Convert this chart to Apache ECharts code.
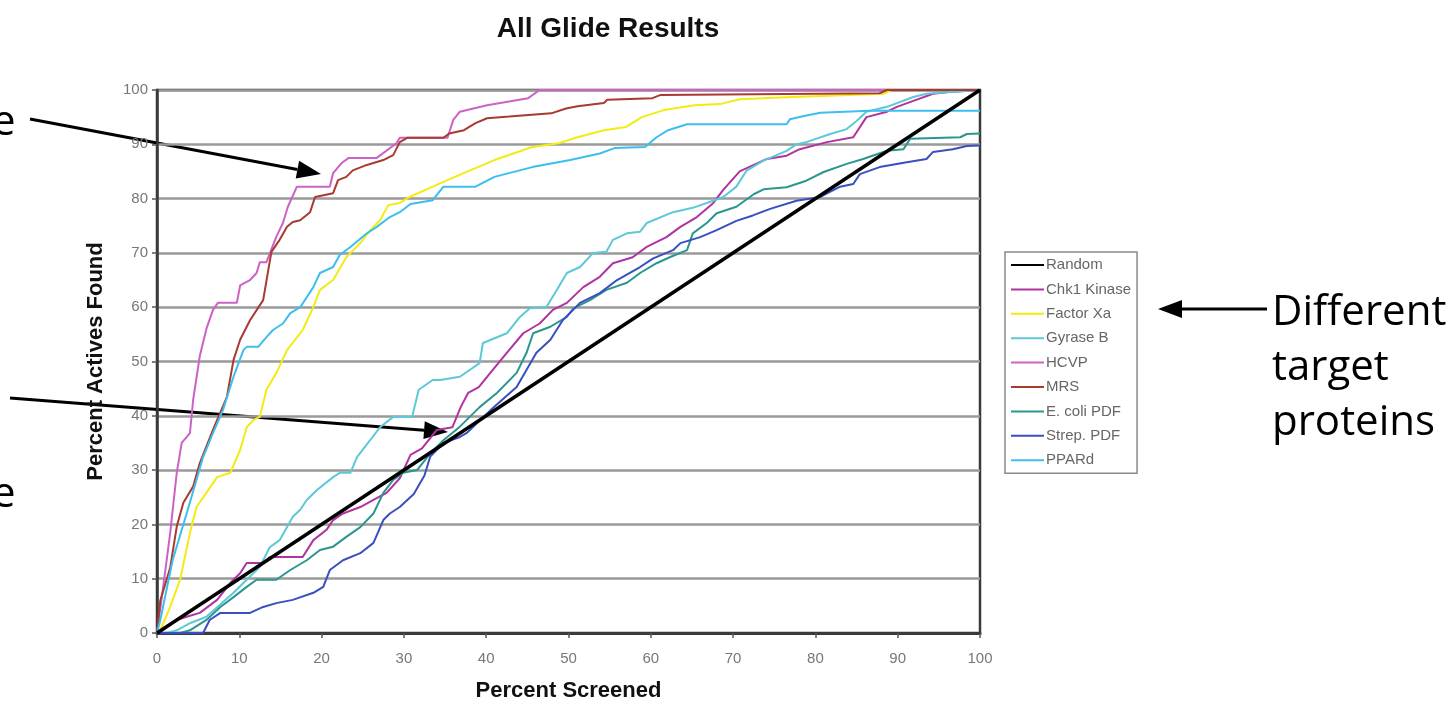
<!DOCTYPE html>
<html>
<head>
<meta charset="utf-8">
<script src="https://cdn.jsdelivr.net/npm/echarts@6/dist/echarts.min.js"></script>
<style>
  html, body { margin: 0; padding: 0; background: #fff; }
  #chart { width: 1451px; height: 702px; }
</style>
</head>
<body>
<div id="chart"></div>
<script>
// tick values on both axes
const xTicks = [0, 10, 20, 30, 40, 50, 60, 70, 80, 90, 100];
const yTicks = [0, 10, 20, 30, 40, 50, 60, 70, 80, 90, 100];

const seriesNames = ["Random", "Chk1 Kinase", "Factor Xa", "Gyrase B", "HCVP", "MRS", "E. coli PDF", "Strep. PDF", "PPARd"];
const seriesColors = ["#000000", "#B0339F", "#F2EC12", "#5CC8D8", "#CC62C6", "#A83A30", "#2A968F", "#3A4FBF", "#3CBFEE"];

// [percent screened, percent actives found]
const random = [[0, 0], [100, 100]];

const chk1 = [[0,0],[0.7,0.5],[2.4,2.4],[3.6,3],[5.2,3.7],[7.3,6.1],[8.9,9.2],[10.1,11],[10.9,12.9],[12.9,12.9],[13.7,14],[17.7,14],[19,17.1],[20.6,19],[21.4,20.8],[22.6,22],[24.7,23.2],[26.3,24.5],[27.9,25.8],[29.5,28.5],[30.8,32.8],[32.2,34],[34,37.4],[35.9,37.9],[36.9,41.6],[37.8,44.2],[39.1,45.3],[40.5,47.9],[42.5,51.6],[44.5,55.2],[46.5,57],[48.1,59.5],[49.8,60.8],[51.8,63.7],[53.8,65.6],[55.4,68.1],[57.8,69.2],[59.5,71.1],[61.9,72.9],[63.6,74.8],[65.6,76.6],[67.6,79.2],[68.8,81.6],[70.8,85],[74.1,87.3],[76.5,87.9],[78.1,89.1],[81.4,90.4],[84.6,91.3],[86.2,95],[88.7,96],[89.9,96.9],[91.9,98],[94.3,99.3],[96.7,99.7],[100,100]];

const factorXa = [[0,0],[0.4,0.5],[1.6,4.8],[2.8,9.8],[4,18.4],[4.8,23.2],[6,25.8],[7.3,28.7],[8.9,29.5],[10.1,33.7],[10.9,37.9],[11.7,39.2],[12.5,39.8],[13.3,44.8],[14.5,47.9],[15.8,52.1],[17.7,55.8],[19,60],[19.8,63.2],[21.4,65],[23,69.2],[24.7,71.8],[25.9,74.2],[27.1,76],[28.1,78.8],[29.5,79.2],[30.7,80.3],[33.5,82.2],[36.2,84],[41,87.1],[45.6,89.5],[48.8,90.2],[51.1,91.3],[54.3,92.6],[57,93.2],[58.9,95],[61.6,96.3],[65.3,97.2],[68.4,97.4],[70.8,98.3],[75.7,98.6],[88.3,99.3],[89.2,100],[100,100]];

const gyraseB = [[0,0],[1.2,0],[2.4,0.5],[4,1.8],[6,3],[9.3,7.4],[12.5,12.2],[13.7,15.8],[14.9,17.1],[15.8,19.5],[16.5,21.4],[17.4,22.7],[18.2,24.5],[19.4,26.3],[21.4,28.7],[22.2,29.5],[23.5,29.5],[24.3,32.4],[25.9,35.5],[27.1,37.9],[28.7,39.8],[31,39.8],[31.8,44.8],[33.5,46.6],[34.4,46.6],[36.8,47.2],[39.2,49.7],[39.6,53.4],[42.5,55.2],[44.1,58.2],[45.3,59.8],[47.3,60],[48.6,63.2],[49.8,66.3],[51.4,67.4],[53,70],[54.6,70.2],[55.4,72.4],[57.1,73.6],[58.7,73.9],[59.5,75.5],[62.7,77.5],[65.1,78.3],[66.8,79.2],[68.8,80.3],[70.4,82.2],[71.6,85.1],[73.7,87],[76.5,88.8],[77.7,90],[78.9,90.4],[81.8,91.9],[83.8,92.8],[85,94.3],[86.2,96],[88.7,96.9],[91.9,98.7],[93.5,99.3],[96,99.6],[100,100]];

const hcvp = [[0,0],[0.7,7.9],[1.6,18.4],[2.4,29.5],[3,35],[4,36.8],[4.4,43],[5.2,51],[6,56],[6.8,59.5],[7.4,60.8],[9.7,60.8],[10.1,64],[11.3,65],[12.1,66.3],[12.5,68.3],[13.3,68.3],[14.5,73],[15.3,75.5],[15.9,78.5],[17,82.2],[21,82.2],[21.4,84.7],[22.4,86.5],[23.3,87.5],[26.7,87.5],[29.1,90.2],[29.5,91.2],[35.3,91.2],[36,94.5],[36.8,96],[40.1,97.2],[45.1,98.5],[46.5,100],[100,100]];

const mrs = [[0,0],[0.4,6],[1.6,12],[2.4,19.6],[3.2,24],[4.4,27],[5.2,31.3],[6.8,37.4],[8.5,43.5],[9.3,50.3],[10.1,54],[11.3,57.6],[12.9,61.3],[13.9,70.2],[14.9,72.4],[15.8,74.8],[16.5,75.7],[17.4,76],[18.6,77.5],[19.2,80.3],[21.4,81],[22,83.4],[23,84],[23.8,85.2],[25.5,86.2],[27.5,87.1],[28.7,88],[29.5,90.4],[30.4,91.2],[34.8,91.2],[35.5,92],[37.3,92.6],[38.7,93.9],[40.1,94.8],[42.8,95.1],[47.9,95.7],[49.7,96.6],[51.1,97],[54.3,97.6],[54.7,98.2],[60.2,98.5],[61.2,99.1],[87.8,99.4],[88.7,100],[100,100]];

const ecoliPdf = [[0,0],[2.8,0],[4,0.5],[6,2.4],[7.7,4.8],[9.3,6.6],[10.9,8.5],[12.1,9.8],[14.5,9.8],[16.2,11.6],[18.2,13.4],[19.8,15.3],[21.4,15.9],[23,17.7],[24.7,19.5],[26.3,22],[27.5,25.8],[28.7,28.2],[29.9,29.5],[31.6,30],[33.2,33.1],[34.8,35.5],[36.8,38],[39.2,41.6],[41.3,44.2],[43.7,47.9],[44.9,51.6],[45.7,55.2],[47.8,56.4],[49.8,58.2],[50.6,59.8],[52.6,61.3],[54.6,63.2],[57.1,64.5],[58.7,66.3],[60.7,68.1],[62.3,69.2],[64.4,70.5],[65.1,73.6],[66.8,75.5],[68,77.3],[70.4,78.5],[72.5,80.8],[73.7,81.7],[76.5,82.1],[78.9,83.3],[81,84.9],[83.8,86.4],[85.8,87.3],[88.7,88.8],[90.7,89.1],[91.5,91],[97.6,91.3],[98.4,91.9],[100,92]];

const strepPdf = [[0,0],[5.6,0],[6.4,2.4],[7.7,3.7],[11.3,3.7],[12.9,4.8],[14.5,5.5],[16.5,6.1],[19,7.4],[20.2,8.5],[21,11.6],[22.6,13.4],[24.7,14.7],[26.3,16.6],[27.5,20.8],[28.3,22],[29.5,23.2],[31.2,25.6],[32.5,29],[33.2,32.5],[34.8,35],[36.8,36.1],[37.6,36.8],[40.5,41],[43.7,45.3],[46.1,51.6],[47.8,54],[49.3,57.6],[51.4,60.8],[53.8,62.6],[55.9,65],[58.7,67.4],[60.3,69],[62.7,70.5],[63.6,71.8],[66,72.9],[68,74.2],[70.4,75.9],[72.4,76.9],[74.5,78.1],[77.7,79.6],[80.6,80.3],[83,82.2],[84.6,82.7],[85.4,84.5],[87.8,85.8],[91.1,86.7],[93.5,87.3],[94.3,88.6],[96.7,89.1],[98.4,89.7],[100,89.8]];

const ppard = [[0,0],[0.4,2.4],[1.9,13.4],[3.6,22],[4.8,28.2],[5.6,32.4],[6.8,36.8],[8,41],[9.3,47.2],[10.5,52.1],[10.9,52.7],[12.3,52.7],[13.3,54.5],[14.1,55.8],[15.3,57],[16.2,58.9],[17.4,60],[19,63.7],[19.8,66.3],[21.4,67.4],[22.2,69.6],[23.5,71.1],[25.5,73.6],[26.7,74.8],[28.3,76.6],[29.5,77.5],[30.8,79],[33.5,79.7],[34.8,82.2],[38.7,82.2],[41,84],[45.6,85.8],[50.2,87.1],[53.8,88.3],[55.6,89.3],[59.3,89.5],[60.7,91.3],[62.1,92.6],[64.4,93.7],[76.5,93.7],[76.9,94.6],[78.9,95.3],[80.6,95.8],[86.6,96.2],[100,96.2]];

const seriesData = [random, chk1, factorXa, gyraseB, hcvp, mrs, ecoliPdf, strepPdf, ppard];

const chart = echarts.init(document.getElementById("chart"));

// slide annotations: arrow line plus a filled head
function arrow(x1, y1, x2, y2) {
  const len = Math.hypot(x2 - x1, y2 - y1);
  const ux = (x2 - x1) / len, uy = (y2 - y1) / len;
  const bx = x2 - ux * 24, by = y2 - uy * 24;
  const hw = 9;
  return [
    { type: "line", shape: { x1: x1, y1: y1, x2: bx, y2: by }, style: { stroke: "#000", lineWidth: 3 } },
    { type: "polygon", shape: { points: [[x2, y2], [bx - uy * hw, by + ux * hw], [bx + uy * hw, by - ux * hw]] }, style: { fill: "#000" } },
  ];
}

const slideFont = '"Open Sans", "Noto Sans", sans-serif';
const slideText = (t, x, y) => ({
  type: "text", x: x, y: y,
  style: { text: t, font: "42px " + slideFont, fill: "#000", textVerticalAlign: "middle", verticalAlign: "middle" },
});

const axisFont = "Liberation Sans, Arial";

const option = {
  animation: false,
  backgroundColor: "#fff",
  title: {
    text: "All Glide Results",
    left: 603,
    top: 10,
    textAlign: "center",
    textStyle: { fontFamily: axisFont, fontSize: 28, fontWeight: "bold", color: "#111" },
  },
  grid: {
    left: 157, right: 471, top: 90, bottom: 69,
    outerBoundsMode: "none",
    show: true, borderColor: "#3a3a3a", borderWidth: 2.5,
  },
  legend: {
    orient: "vertical",
    left: 1005,
    top: 252,
    padding: [5, 6, 5, 5],
    itemWidth: 33,
    itemHeight: 16,
    itemGap: 8.4,
    itemStyle: { opacity: 0 },
    borderColor: "#8a8a8a",
    borderWidth: 1.5,
    data: seriesNames,
    textStyle: { fontFamily: axisFont, fontSize: 15, color: "#666", lineHeight: 16, padding: [0, 0, 0, -3] },
  },
  xAxis: {
    type: "value",
    min: xTicks[0], max: xTicks[xTicks.length - 1], interval: 10,
    name: "Percent Screened",
    nameLocation: "middle",
    nameGap: 47,
    nameTextStyle: { fontFamily: axisFont, fontSize: 22, fontWeight: "bold", color: "#111" },
    axisLine: { lineStyle: { color: "#3a3a3a", width: 3 } },
    axisTick: { show: true, length: 5, lineStyle: { color: "#555", width: 1.5 } },
    axisLabel: { margin: 18, fontFamily: axisFont, fontSize: 15, color: "#777" },
    splitLine: { show: false },
  },
  yAxis: {
    type: "value",
    min: yTicks[0], max: yTicks[yTicks.length - 1], interval: 10,
    name: "Percent Actives Found",
    nameLocation: "middle",
    nameGap: 50,
    nameTextStyle: { fontFamily: axisFont, fontSize: 22, fontWeight: "bold", color: "#111" },
    axisLine: { show: true, lineStyle: { color: "#3a3a3a", width: 2.5 } },
    axisTick: { show: true, length: 5, lineStyle: { color: "#555", width: 1.5 } },
    axisLabel: { margin: 9, fontFamily: axisFont, fontSize: 15, color: "#777" },
    splitLine: { show: true, lineStyle: { color: "#9a9a9a", width: 2.5 } },
  },
  series: seriesNames.map((name, i) => ({
    name: name,
    type: "line",
    data: seriesData[i],
    symbol: "none",
    color: seriesColors[i],
    lineStyle: { width: i === 0 ? 3.5 : 2, color: seriesColors[i] },
    z: i === 0 ? 3 : 2,
  })),
  graphic: [
    ...arrow(30, 119, 321, 174),
    ...arrow(10, 398, 448, 432),
    ...arrow(1267, 309, 1158, 309),
    slideText("e", -8, 123),
    slideText("e", -8, 495),
    slideText("Different", 1272, 313),
    slideText("target", 1272, 368),
    slideText("proteins", 1272, 423),
  ],
};

chart.setOption(option);
</script>
</body>
</html>
